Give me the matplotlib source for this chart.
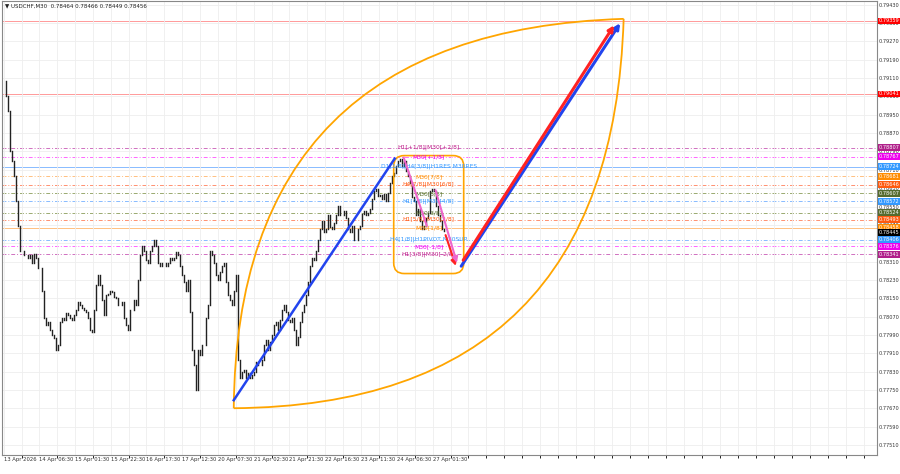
import matplotlib
matplotlib.use("Agg")
import matplotlib.pyplot as plt
from matplotlib.patches import FancyBboxPatch, PathPatch
from matplotlib.path import Path

# CONFIG / DATA
closes = [
    0.79098, 0.79033, 0.78967, 0.78793, 0.78750, 0.78685, 0.78576, 0.78467, 0.78358, 0.78358,
    0.78337, 0.78337, 0.78324, 0.78337, 0.78306, 0.78345, 0.78324, 0.78280, 0.78280, 0.78184,
    0.78063, 0.78032, 0.78045, 0.78010, 0.77989, 0.77976, 0.77923, 0.77945, 0.78045, 0.78063,
    0.78054, 0.78084, 0.78076, 0.78063, 0.78054, 0.78076, 0.78097, 0.78132, 0.78119, 0.78106,
    0.78097, 0.78089, 0.78063, 0.78010, 0.78002, 0.78097, 0.78206, 0.78250, 0.78206, 0.78141,
    0.78076, 0.78163, 0.78171, 0.78184, 0.78176, 0.78154, 0.78150, 0.78119, 0.78119, 0.78132,
    0.78063, 0.78032, 0.78010, 0.78097, 0.78097, 0.78141, 0.78119, 0.78228, 0.78337, 0.78380,
    0.78358, 0.78315, 0.78306, 0.78358, 0.78380, 0.78402, 0.78380, 0.78306, 0.78293, 0.78306,
    0.78306, 0.78293, 0.78306, 0.78324, 0.78315, 0.78324, 0.78350, 0.78337, 0.78293, 0.78250,
    0.78219, 0.78184, 0.78228, 0.78089, 0.77923, 0.77858, 0.77749, 0.77923, 0.77902, 0.77945,
    0.77945, 0.78063, 0.78119, 0.78358, 0.78337, 0.78306, 0.78250, 0.78228, 0.78263, 0.78293,
    0.78306, 0.78219, 0.78163, 0.78141, 0.78119, 0.78184, 0.78250,
    0.77880, 0.77802, 0.77828, 0.77836, 0.77802, 0.77823, 0.77802, 0.77815, 0.77828, 0.77871,
    0.77858, 0.77858, 0.77880, 0.77945, 0.77967, 0.77923, 0.77958, 0.77989, 0.78032, 0.78045,
    0.78010, 0.78054, 0.78097, 0.78119, 0.78089, 0.78054, 0.78045, 0.78063, 0.78010, 0.77945,
    0.77980, 0.78045, 0.78089, 0.78119, 0.78163, 0.78219, 0.78293, 0.78324, 0.78315, 0.78358,
    0.78402, 0.78454, 0.78489, 0.78437, 0.78454, 0.78511, 0.78463, 0.78454, 0.78480, 0.78511,
    0.78554, 0.78511, 0.78511, 0.78532, 0.78498, 0.78454, 0.78437, 0.78467, 0.78402, 0.78402,
    0.78454, 0.78467, 0.78519, 0.78532, 0.78511, 0.78524, 0.78541, 0.78585, 0.78619, 0.78628,
    0.78598, 0.78602, 0.78585, 0.78606, 0.78576, 0.78611, 0.78654, 0.78685, 0.78698, 0.78728,
    0.78750, 0.78759, 0.78728, 0.78750, 0.78706, 0.78685, 0.78654, 0.78593, 0.78576, 0.78515,
    0.78541, 0.78489, 0.78454, 0.78467, 0.78498, 0.78524, 0.78619, 0.78628, 0.78619, 0.78554,
    0.78511, 0.78489, 0.78454, 0.78445,
]

date_labels = ["13 Apr 2026", "14 Apr 06:30", "15 Apr 01:30", "15 Apr 22:30", "16 Apr 17:30",
               "17 Apr 12:30", "20 Apr 07:30", "21 Apr 02:30", "21 Apr 21:30", "22 Apr 16:30",
               "23 Apr 11:30", "24 Apr 06:30", "27 Apr 01:30"]
date_pos = [0, 17.5, 35.5, 53.5, 71, 89, 107, 125, 142.5, 160.5, 178.5, 196.5, 214.5]

# level lines: price, colour, style, box colour
DASHDOT = (0, (4, 2, 1, 2))
levels = [
    (0.79359, "#ff9999", "-", "#ff0000"),
    (0.79041, "#ff9999", "-", "#ff0000"),
    (0.78807, "#d070c0", DASHDOT, "#b0208a"),
    (0.78767, "#ff66ff", DASHDOT, "#ee00ee"),
    (0.78724, "#88bbff", "-", "#3399ff"),
    (0.78681, "#ffc080", DASHDOT, "#ff8c00"),
    (0.78646, "#ff9070", DASHDOT, "#ff5a10"),
    (0.78607, "#9aaa70", DASHDOT, "#556b2f"),
    (0.78572, "#88bbff", DASHDOT, "#3399ff"),
    (0.78524, "#9aaa70", DASHDOT, "#556b2f"),
    (0.78493, "#ff9070", DASHDOT, "#ff5a10"),
    (0.78458, "#ffc080", "-", "#ff8c00"),
    (0.78406, "#88bbff", DASHDOT, "#3399ff"),
    (0.78376, "#ff66ff", DASHDOT, "#ee00ee"),
    (0.78341, "#d070c0", DASHDOT, "#b0208a"),
]
level_texts = [
    (0.78807, "H1[+1/8]|M30[+2/8]", "#c0208a"),
    (0.78767, "M30[+1/8]", "#ee00ee"),
    (0.78724, "D1[1/8]|H4[3/8]|H1RES M30RES", "#3399ff"),
    (0.78681, "M30[7/8]", "#ff8c00"),
    (0.78646, "H4[7/8]|M30[6/8]", "#ff5a10"),
    (0.78607, "M30[5/8]", "#556b2f"),
    (0.78572, "H1[4/8]|M30[4/8]", "#3399ff"),
    (0.78524, "M30[3/8]", "#556b2f"),
    (0.78493, "H1[5/8]|M30[2/8]", "#ff5a10"),
    (0.78458, "M30[1/8]", "#ff8c00"),
    (0.78406, "H4[1/8]|H1PIVOT M30SUP", "#3399ff"),
    (0.78376, "M30[-1/8]", "#ee00ee"),
    (0.78341, "H1[3/8]|M30[-2/8]", "#c0208a"),
]

# drawings (bar index, price)
blue_line = [(115, 0.77706), (195.5, 0.78759)]
blue_arrow = [(228, 0.78280), (309, 0.79359)]
red_arrow = [(229, 0.78306), (306, 0.79350)]
red_short = [(220.5, 0.78437), (226.5, 0.78280)]
pink_line = [(200, 0.78763), (211.5, 0.78467)]
pink_arrow = [(215.5, 0.78633), (227, 0.78293)]
lens_start, lens_end = (115, 0.77671), (310, 0.79368)
upper_ctrl, lower_ctrl = (116.5, 0.79315), (304, 0.77684)
box_x, box_y = (195, 230), (0.78258, 0.78772)

fig = plt.figure(figsize=(9, 4.74), dpi=100)
ax = fig.add_axes([0.002, 0.04, 0.972, 0.958])
ax.set_xlim(-1, 436.5)
ax.set_ylim(0.77467, 0.79446)

# grid
yt = [0.7751 + 0.0008 * i for i in range(25)]
ax.set_yticks(yt)
ax.set_yticklabels([f"{v:.5f}" for v in yt], fontsize=3.6, color="#333333")
ax.yaxis.tick_right()
ax.set_xticks(date_pos)
ax.set_xticklabels(date_labels, fontsize=3.8, color="#333333", ha="left")
ax.set_xticks([p + 9 for p in date_pos] + [232 + 9 * k for k in range(23)], minor=True)
ax.tick_params(length=0, pad=1.5)
ax.grid(True, which="both", color="#eeeeee", lw=0.6)
for s in ax.spines.values():
    s.set_color("#888888"); s.set_linewidth(0.8)

# levels
for price, col, ls, box in levels:
    ax.axhline(price, color=col, ls=ls, lw=0.7, zorder=1)
    ax.text(1.002, price, f"{price:.5f}", transform=ax.get_yaxis_transform(), fontsize=3.6,
            color="white", va="center", ha="left",
            bbox=dict(boxstyle="square,pad=0.15", fc=box, ec="none"), clip_on=False, zorder=7)
ax.text(1.002, closes[-1] - 0.00008, f"{closes[-1]:.5f}", transform=ax.get_yaxis_transform(),
        fontsize=3.6, color="white", va="center", ha="left",
        bbox=dict(boxstyle="square,pad=0.15", fc="black", ec="none"), clip_on=False, zorder=8)

# price bars
for i in range(1, len(closes)):
    ax.plot([i, i], [closes[i - 1], closes[i]], color="#222222", lw=1.0, zorder=3)

# lens curves
for ctrl in (upper_ctrl, lower_ctrl):
    path = Path([lens_start, ctrl, lens_end], [Path.MOVETO, Path.CURVE3, Path.CURVE3])
    ax.add_patch(PathPatch(path, fc="none", ec="#ffa500", lw=1.3, zorder=4))

# rounded box, drawn in axes fraction so the corners stay round
x0, x1 = ax.get_xlim()
y0, y1 = ax.get_ylim()
bx = (box_x[0] - x0) / (x1 - x0)
bw = (box_x[1] - box_x[0]) / (x1 - x0)
by = (box_y[0] - y0) / (y1 - y0)
bh = (box_y[1] - box_y[0]) / (y1 - y0)
ax.add_patch(FancyBboxPatch((bx, by), bw, bh, transform=ax.transAxes,
                            boxstyle="round,pad=0,rounding_size=0.012", mutation_aspect=1.92,
                            fc="none", ec="#ffa500", lw=1.2, zorder=4))

for y, txt, col in level_texts:
    ax.text(212.5, y, txt, fontsize=4.3, color=col, ha="center", va="center", zorder=5)

ax.plot(*zip(*blue_line), color="#2244ee", lw=1.8, zorder=6)
ax.plot(*zip(*pink_line), color="#ee66cc", lw=1.5, zorder=6)
for (p0, p1), col, lw in [(blue_arrow, "#2244ee", 2.2), (red_arrow, "#ff2222", 2.2),
                          (red_short, "#ff2222", 1.5), (pink_arrow, "#ee66cc", 1.5)]:
    ax.annotate("", xy=p1, xytext=p0,
                arrowprops=dict(arrowstyle="-|>", color=col, lw=lw, mutation_scale=8),
                zorder=6)

ax.text(0.004, 0.995, "\u25bc USDCHF,M30  0.78464 0.78466 0.78449 0.78456",
        transform=ax.transAxes, fontsize=4, va="top", ha="left", color="#222222")

fig.savefig("out.png", dpi=100)
